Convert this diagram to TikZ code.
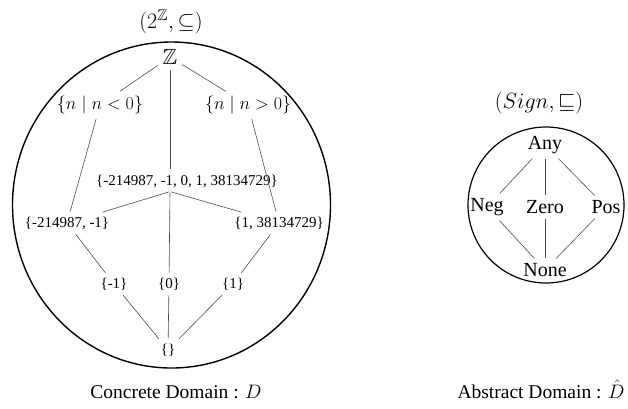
\RequirePackage{fix-cm}
\documentclass[tikz,border=0pt]{standalone}
\usepackage{amsmath,amssymb}
\usepackage{fontspec}
\newfontfamily\numfont{Liberation Serif}
\usepackage{tikz}

\begin{document}
\begin{tikzpicture}[x=1pt,y=-1pt,
        elt/.style={inner sep=4pt,font=\fontsize{18}{20}\selectfont},
        word/.style={inner sep=4pt,font=\numfont\fontsize{20}{22}\selectfont},
        num/.style={inner sep=4pt,font=\numfont\fontsize{15}{17}\selectfont},
        ttl/.style={inner sep=2pt,font=\fontsize{22}{24}\selectfont},
        domcap/.style={inner sep=2pt,font=\numfont\fontsize{19.5}{22}\selectfont},
        lnk/.style={draw=black!70,line width=.6pt,shorten <=1pt,shorten >=1pt}]
        \useasboundingbox (0,0) rectangle (628,408);
        % concrete domain
        \draw[line width=1.4pt](171.5,205) ellipse[x radius=159, y radius=163];
        \node[ttl] (ttlC) at (171,22) {$(2^{\mathbb{Z}},\subseteq)$};
        \node[ttl,inner sep=4pt] (Z) at (170,57) {$\mathbb{Z}$};
        \node[elt] (ltz) at (100,105) {$\{n\mid n<0\}$};
        \node[elt] (gtz) at (248,105) {$\{n\mid n>0\}$};
        \node[num] (big) at (187,181) {\{-214987, -1, 0, 1, 38134729\}};
        \node[num] (negs) at (67,223) {\{-214987, -1\}};
        \node[num] (poss) at (279,223) {\{1, 38134729\}};
        \node[num] (mone) at (114,284) {\{-1\}};
        \node[num] (zero) at (169,284) {\{0\}};
        \node[num] (pone) at (233,284) {\{1\}};
        \node[num] (empty) at (168,350) {\{\}};
        \coordinate (bigt) at (big.north -| Z);
        \coordinate (bigb) at (big.south -| Z);
        \draw[lnk] (Z) -- (ltz);
        \draw[lnk] (Z) -- (bigt);
        \draw[lnk] (Z) -- (gtz);
        \draw[lnk] (ltz) -- (negs);
        \draw[lnk] (gtz) -- (poss);
        \draw[lnk] (bigb) -- (negs);
        \draw[lnk] (bigb) -- (zero);
        \draw[lnk] (bigb) -- (poss);
        \draw[lnk] (negs) -- (mone);
        \draw[lnk] (poss) -- (pone);
        \draw[lnk] (mone) -- (empty);
        \draw[lnk] (zero) -- (empty);
        \draw[lnk] (pone) -- (empty);
        \node[domcap] (capC) at (176,392) {Concrete Domain : $D$};
        % abstract domain
        \draw[line width=1.2pt](546,205) circle[radius=78];
        \node[ttl] (ttlA) at (539,103) {$(Sign,\sqsubseteq)$};
        \node[word] (any) at (545,145) {Any};
        \node[word] (neg) at (487,207) {Neg};
        \node[word] (nul) at (545,207) {Zero};
        \node[word] (pos) at (606,207) {Pos};
        \node[word] (none) at (545,270) {None};
        \draw[lnk] (any) -- (neg);
        \draw[lnk] (any) -- (nul);
        \draw[lnk] (any) -- (pos);
        \draw[lnk] (neg) -- (none);
        \draw[lnk] (nul) -- (none);
        \draw[lnk] (pos) -- (none);
        \node[domcap] (capA) at (541,389) {Abstract Domain : $\hat{D}$};
\end{tikzpicture}
\end{document}
